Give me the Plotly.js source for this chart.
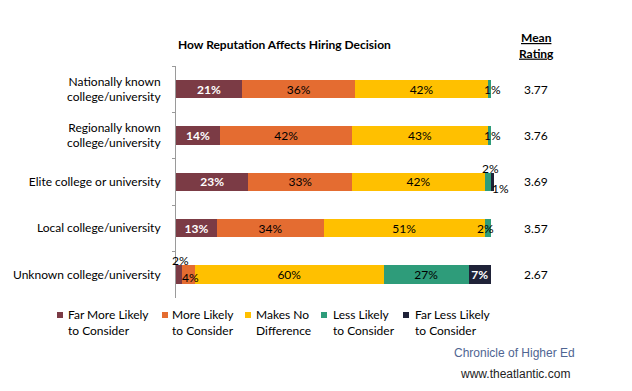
<!DOCTYPE html>
<html>
<head>
<meta charset="utf-8">
<script src="https://cdn.plot.ly/plotly-3.0.1.min.js"></script>
<style>html,body{margin:0;padding:0;background:#fff;}#chart{width:632px;height:391px;}</style>
</head>
<body>
<div id="chart"></div>
<script>
// ---- data ----
var categories = ["Nationally known<br>college/university", "Regionally known<br>college/university", "Elite college or university", "Local college/university", "Unknown college/university"];
var seriesNames = ["Far More Likely<br>to Consider", "More Likely<br>to Consider", "Makes No<br>Difference", "Less Likely<br>to Consider", "Far Less Likely<br>to Consider"];
var farMore = [21, 14, 23, 13, 2];
var more = [36, 42, 33, 34, 4];
var noDiff = [42, 43, 42, 51, 60];
var less = [1, 1, 2, 2, 27];
var farLess = [0, 0, 1, 0, 7];
var meanRating = [3.77, 3.76, 3.69, 3.57, 2.67];
var meanHeader = "Mean<br>Rating";
var chartTitle = "How Reputation Affects Hiring Decision";
var sourceLines = ["Chronicle of Higher Ed", "www.theatlantic.com"];

// ---- styles ----
var colors = ["#7B3B45", "#E46C31", "#FFC000", "#2E9C7A", "#1F2238"];
var textColors = ["#ffffff", "#000000", "#000000", "#000000", "#ffffff"];
var FONT = "Lato, 'Open Sans', sans-serif";
var series = [farMore, more, noDiff, less, farLess];

// plot area geometry (px)
var L = 176, R = 138, T = 66, B = 93, W = 632, H = 391;
var PW = W - L - R, PH = H - T - B;
function px2x(px){ return (px - L) / PW; }
function py2y(py){ return (H - B - py) / PH; }

var traces = series.map(function(vals, i){
  return {
    type: "bar", orientation: "h",
    y: categories, x: vals,
    name: seriesNames[i],
    marker: {color: colors[i], line: {width: 0}},
    text: vals.map(function(v){ return v >= 5 ? v + "%" : ""; }),
    textposition: "inside", insidetextanchor: "middle", textangle: 0,
    constraintext: "none",
    textfont: {family: FONT, size: 12, color: textColors[i], weight: textColors[i] === "#ffffff" ? 700 : 400},
    hoverinfo: "skip", showlegend: false
  };
});

// small-segment labels placed by the side (offsets in px)
var smallOffsets = {
  "3-0": [3, 0], "3-1": [3, 0], "3-2": [3, 13], "4-2": [8, -7], "3-3": [-2, 0],
  "0-4": [1, 14], "1-4": [2, -3]
};
var annotations = [];
series.forEach(function(vals, si){
  vals.forEach(function(v, ci){
    if (v > 0 && v < 5) {
      var start = 0;
      for (var k = 0; k < si; k++) start += series[k][ci];
      var off = smallOffsets[si + "-" + ci] || [0, 0];
      annotations.push({
        xref: "x", yref: "y", x: start + v / 2, y: categories[ci],
        text: v + "%", showarrow: false, xanchor: "center", yanchor: "middle",
        xshift: off[0], yshift: off[1],
        font: {family: FONT, size: 12, color: "#000"}
      });
    }
  });
});

// mean rating column
meanRating.forEach(function(m, ci){
  annotations.push({xref: "paper", yref: "y", x: px2x(536), y: categories[ci], text: m.toFixed(2),
    showarrow: false, xanchor: "center", yanchor: "middle", font: {family: FONT, size: 12, color: "#000"}});
});
annotations.push({xref: "paper", yref: "paper", x: px2x(536), y: py2y(45.5),
  text: meanHeader.split("<br>").map(function(s){ return "<b><u>" + s + "</u></b>"; }).join("<br>"),
  showarrow: false, xanchor: "center", yanchor: "middle", font: {family: FONT, size: 12, color: "#000"}});

// custom legend
var legMarkX = [57, 162, 245, 321, 403];
var legTextX = [66, 170, 254, 331, 413];
var shapes = [];
seriesNames.forEach(function(n, i){
  shapes.push({type: "rect", xref: "paper", yref: "paper",
    x0: px2x(legMarkX[i]), x1: px2x(legMarkX[i] + 6), y0: py2y(318), y1: py2y(312),
    fillcolor: colors[i], line: {width: 0}});
  annotations.push({xref: "paper", yref: "paper", x: px2x(legTextX[i]), y: py2y(322),
    text: n, showarrow: false, xanchor: "left", yanchor: "middle", align: "left",
    font: {family: FONT, size: 12, color: "#000"}});
});

// source
annotations.push({xref: "paper", yref: "paper", x: px2x(452), y: py2y(353), text: sourceLines[0],
  showarrow: false, xanchor: "left", yanchor: "middle", font: {family: "Liberation Sans, Arial, sans-serif", size: 12, color: "#4f6592"}});
annotations.push({xref: "paper", yref: "paper", x: px2x(458), y: py2y(374), text: sourceLines[1],
  showarrow: false, xanchor: "left", yanchor: "middle", font: {family: "Liberation Sans, Arial, sans-serif", size: 12, color: "#222"}});

var layout = {
  width: W, height: H,
  margin: {l: L, r: R, t: T, b: B, pad: 0},
  paper_bgcolor: "#fff", plot_bgcolor: "#fff",
  barmode: "stack", bargap: 0.61,
  font: {family: FONT, size: 12, color: "#000"},
  title: {text: "<b>" + chartTitle + "</b>", x: 178 / W, xanchor: "left", xref: "container",
    y: 1 - 45 / H, yanchor: "middle", yref: "container", font: {family: FONT, size: 12, color: "#000"}},
  xaxis: {visible: false, range: [0, 101], fixedrange: true},
  yaxis: {type: "category", autorange: "reversed", showline: true, linecolor: "#9a9a9a", linewidth: 1,
    ticks: "outside", tickson: "boundaries", ticklen: 3, tickcolor: "#9a9a9a", ticklabelstandoff: 12,
    showgrid: false, zeroline: false, automargin: false,
    tickfont: {family: FONT, size: 12, color: "#000"}},
  showlegend: false,
  annotations: annotations,
  shapes: shapes
};

Plotly.newPlot("chart", traces, layout, {displayModeBar: false, staticPlot: true});
</script>
</body>
</html>
